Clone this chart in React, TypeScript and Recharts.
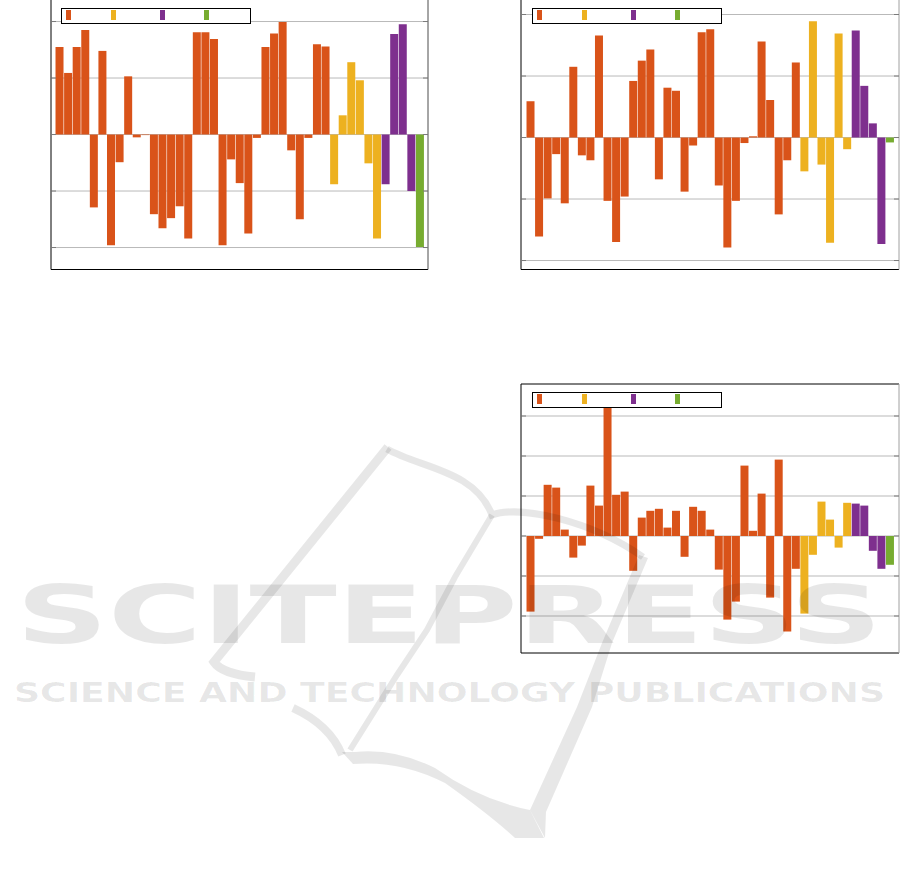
import { BarChart, Bar, XAxis, YAxis, CartesianGrid, Cell, Legend, ReferenceLine } from "recharts"

// one category per bar, 43 bars in each panel
const categories = [
  'b1', 'b2', 'b3', 'b4', 'b5', 'b6', 'b7', 'b8', 'b9', 'b10',
  'b11', 'b12', 'b13', 'b14', 'b15', 'b16', 'b17', 'b18', 'b19', 'b20',
  'b21', 'b22', 'b23', 'b24', 'b25', 'b26', 'b27', 'b28', 'b29', 'b30',
  'b31', 'b32', 'b33', 'b34', 'b35', 'b36', 'b37', 'b38', 'b39', 'b40',
  'b41', 'b42', 'b43',
]

// which legend group every bar belongs to
const groups = [
  0, 0, 0, 0, 0, 0, 0, 0, 0, 0, 0, 0, 0, 0, 0, 0,
  0, 0, 0, 0, 0, 0, 0, 0, 0, 0, 0, 0, 0, 0, 0, 0,
  1, 1, 1, 1, 1, 1,
  2, 2, 2, 2,
  3,
]

const groupColors = ['#D95319', '#EDB120', '#7E2F8E', '#77AC30']

const topLeftValues = [
  1.55, 1.09, 1.55, 1.85, -1.29, 1.48, -1.96, -0.49, 1.03, -0.05,
  -0.01, -1.41, -1.66, -1.48, -1.27, -1.84, 1.81, 1.81, 1.69, -1.96,
  -0.44, -0.86, -1.75, -0.06, 1.55, 1.79, 1.99, -0.28, -1.5, -0.06,
  1.6, 1.56, -0.88, 0.34, 1.28, 0.96, -0.51, -1.84, -0.88, 1.78,
  1.95, -1.0, -1.99,
]

const topRightValues = [
  0.59, -1.61, -0.99, -0.27, -1.07, 1.15, -0.29, -0.37, 1.66, -1.03,
  -1.7, -0.96, 0.92, 1.25, 1.43, -0.68, 0.81, 0.76, -0.88, -0.13,
  1.71, 1.76, -0.78, -1.79, -1.03, -0.09, 0.02, 1.56, 0.61, -1.25,
  -0.37, 1.22, -0.55, 1.89, -0.44, -1.71, 1.69, -0.19, 1.74, 0.84,
  0.23, -1.73, -0.08,
]

const bottomRightValues = [
  -1.89, -0.07, 1.28, 1.21, 0.16, -0.54, -0.24, 1.26, 0.76, 3.22,
  1.03, 1.11, -0.87, 0.46, 0.63, 0.68, 0.21, 0.63, -0.52, 0.73,
  0.63, 0.16, -0.84, -2.09, -1.64, 1.76, 0.13, 1.06, -1.54, 1.91,
  -2.39, -0.82, -1.94, -0.47, 0.86, 0.41, -0.29, 0.83, 0.81, 0.76,
  -0.37, -0.82, -0.72,
]

const ticksTwo = [-2, -1, 0, 1, 2]
const ticksThree = [-2, -1, 0, 1, 2, 3]

// legend swatch offsets inside the box
const swatchLeft = [3.5, 48.5, 97.5, 142]

// tick marks only, no labels
const noLabel = () => <g />

function LegendBox() {
  return (
    <div style={{ position: 'relative', width: 190, height: 16, boxSizing: 'border-box', border: '1px solid #000', background: '#fff' }}>
      {groupColors.map((c, i) => (
        <div key={i} style={{ position: 'absolute', left: swatchLeft[i], top: 1, width: 5, height: 10, background: c }} />
      ))}
    </div>
  )
}

function Panel({ values, left, top, width, height, domain, ticks, pad, rightStroke, topBorder, legendX, legendY }) {
  const data = categories.map((name, i) => ({ name, value: values[i] }))
  const m = 2
  return (
    <div style={{ position: 'absolute', left: left - m, top: top - m }}>
      <BarChart width={width + 2 * m} height={height + 2 * m} data={data}
        margin={{ top: m, right: m, bottom: m, left: m }} barCategoryGap="6%">
        <CartesianGrid xAxisId="b" yAxisId="l" vertical={false} horizontalValues={ticks} stroke="#b9b9b9" />
        <XAxis xAxisId="b" dataKey="name" hide padding={{ left: pad, right: pad }} />
        <YAxis yAxisId="l" type="number" domain={domain} ticks={ticks} allowDataOverflow mirror interval={0}
          tick={noLabel} tickSize={5} tickLine={{ stroke: '#7a7a7a' }} axisLine={{ stroke: '#000' }} />
        <YAxis yAxisId="r" orientation="right" type="number" domain={domain} ticks={ticks} allowDataOverflow mirror interval={0}
          tick={noLabel} tickSize={5} tickLine={{ stroke: '#7a7a7a' }} axisLine={{ stroke: rightStroke }} />
        <Bar xAxisId="b" yAxisId="l" dataKey="value" isAnimationActive={false}>
          {data.map((d, i) => (
            <Cell key={`cell-${i}`} fill={groupColors[groups[i]]} />
          ))}
        </Bar>
        <ReferenceLine xAxisId="b" yAxisId="l" y={domain[0]} stroke="#000" ifOverflow="visible" />
        {topBorder && <ReferenceLine xAxisId="b" yAxisId="l" y={domain[1]} stroke="#000" ifOverflow="visible" />}
        <Legend layout="horizontal" verticalAlign="middle" align="center" content={() => <LegendBox />}
          wrapperStyle={{ left: legendX - left + m, top: legendY - top + m, width: 190, height: 16 }} />
      </BarChart>
    </div>
  )
}

function Watermark() {
  const ink = { fill: '#000', fillOpacity: 0.095 }
  const line = { fill: 'none', stroke: '#000', strokeOpacity: 0.095 }
  return (
    <svg width={901} height={875} style={{ position: 'absolute', left: 0, top: 0, pointerEvents: 'none' }}>
      <path d="M 388 447 L 214 662 Q 222 674 255 677" strokeWidth={9} {...line} />
      <path d="M 387 449 C 420 468, 475 470, 492 515 C 520 505, 590 520, 643 557" strokeWidth={7} {...line} />
      <path d="M 639 555 L 648 558 L 612 643 L 592 707 L 546 812 L 545 838 L 530 810 L 577 707 L 602 643 Z" {...ink} />
      <path d="M 492 515 L 455 577 L 427 630 L 397 675 L 350 750" strokeWidth={6} {...line} />
      <path d="M 293 708 Q 330 725 342 755" strokeWidth={8} {...line} />
      <path d="M 342 752 L 353 764 Q 400 760 445 783 Q 490 815 515 838 L 544 838 L 530 810 Q 480 800 435 768 Q 395 748 355 752 Z" {...ink} />
      <text x={16} y={643} fontFamily="DejaVu Sans" fontWeight="bold" fontSize={80}
        textLength={866} lengthAdjust="spacingAndGlyphs" {...ink}>SCITEPRESS</text>
      <text x={14} y={702} fontFamily="DejaVu Sans" fontWeight="bold" fontSize={27}
        textLength={871} lengthAdjust="spacingAndGlyphs" {...ink}>SCIENCE AND TECHNOLOGY PUBLICATIONS</text>
    </svg>
  )
}

export default function App() {
  return (
    <div style={{ position: 'absolute', left: 0, top: 0, width: 901, height: 875, background: '#fff', overflow: 'hidden' }}>
      <Panel values={topLeftValues} left={50.5} top={0} width={377} height={269.5}
        domain={[-2.389, 2.381]} ticks={ticksTwo} pad={4} rightStroke="#4d4d4d" topBorder={false}
        legendX={61} legendY={8} />
      <Panel values={topRightValues} left={520.5} top={0} width={378} height={269.5}
        domain={[-2.146, 2.236]} ticks={ticksTwo} pad={5} rightStroke="#a0a0a0" topBorder={false}
        legendX={532} legendY={8} />
      <Panel values={bottomRightValues} left={520.5} top={383.5} width={378} height={269}
        domain={[-2.925, 3.8]} ticks={ticksThree} pad={5} rightStroke="#a0a0a0" topBorder={true}
        legendX={532} legendY={392} />
      <Watermark />
    </div>
  )
}
